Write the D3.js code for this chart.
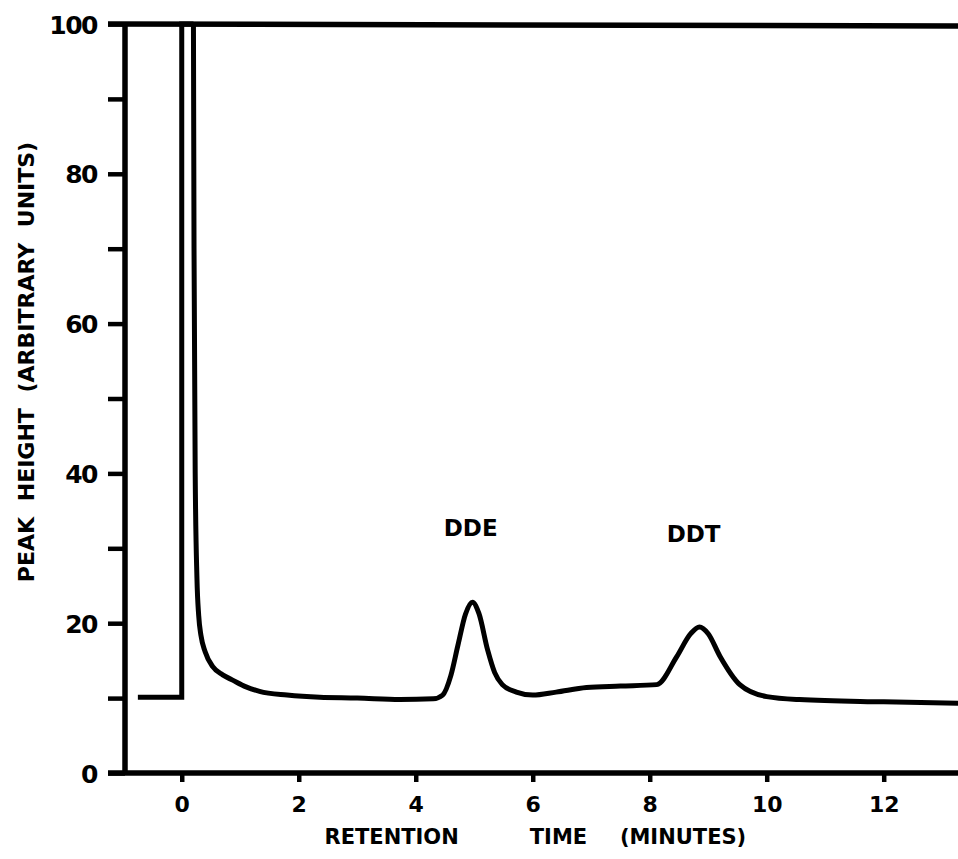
<!DOCTYPE html>
<html>
<head>
<meta charset="utf-8">
<script src="https://cdn.jsdelivr.net/npm/d3@7"></script>
<style>
  body { margin: 0; background: #fff; }
  text { font-family: "DejaVu Sans", sans-serif; font-weight: bold; fill: #000; }
</style>
</head>
<body>
<div id="chart"></div>
<script>
// values
const jumpPoints = [[-0.75, 10.1], [0, 10.1], [0, 100], [0.2, 100]];
const tracePoints = [
    [0.2, 100], [0.21, 70], [0.23, 40], [0.26, 26], [0.29, 21], [0.33, 18.3],
    [0.4, 16.2], [0.53, 14.2], [0.7, 13.1], [0.87, 12.4], [1.1, 11.5], [1.33, 10.9],
    [1.8, 10.4], [2.36, 10.1], [3.0, 10.0], [3.73, 9.8], [4.3, 9.9], [4.46, 10.4],
    [4.6, 13], [4.72, 17], [4.85, 21.2], [4.97, 22.8], [5.08, 21.3], [5.23, 16.4],
    [5.35, 13.4], [5.48, 11.8], [5.72, 10.8], [6.0, 10.4], [6.4, 10.8], [6.92, 11.4],
    [7.5, 11.6], [8.12, 11.8], [8.46, 15.5], [8.7, 18.6], [8.85, 19.5], [9.0, 18.6],
    [9.2, 15.6], [9.54, 11.8], [10.0, 10.2], [10.56, 9.8], [12.0, 9.5], [13.3, 9.3]
];
const xTicks = [0, 2, 4, 6, 8, 10, 12];
const yTicks = [0, 10, 20, 30, 40, 50, 60, 70, 80, 90, 100];
const yLabels = [0, 20, 40, 60, 80, 100];
const peakLabels = [{ name: "DDE", x: 4.94, y: 31.6 }, { name: "DDT", x: 8.75, y: 30.8 }];
const xTitleWords = [{ word: "RETENTION", x: 2.44 }, { word: "TIME", x: 5.95 }, { word: "(MINUTES)", x: 7.49 }];

const width = 958, height = 859;
const svg = d3.select("#chart").append("svg")
    .attr("width", width)
    .attr("height", height);

const x = d3.scaleLinear().domain([-0.97, 13.27]).range([125, 958]);
const y = d3.scaleLinear().domain([0, 100]).range([773, 24]);

// y ticks on the left
const yAxis = svg.append("g")
    .attr("transform", `translate(${x(-0.97)},0)`)
    .call(d3.axisLeft(y).tickValues(yTicks).tickSize(17)
        .tickFormat(d => yLabels.includes(d) ? d : ""));
yAxis.select(".domain").remove();
yAxis.selectAll(".tick line").attr("stroke", "#000").attr("stroke-width", 4.5);
yAxis.selectAll(".tick text").attr("x", -28).attr("dy", "0.36em")
    .style("font-size", "25px").style("letter-spacing", "-1.5px");

// x ticks along the bottom
const xAxis = svg.append("g")
    .attr("transform", `translate(0,${y(0)})`)
    .call(d3.axisBottom(x).tickValues(xTicks).tickSize(9));
xAxis.select(".domain").remove();
xAxis.selectAll(".tick line").attr("stroke", "#000").attr("stroke-width", 4.5);
xAxis.selectAll(".tick text").attr("y", 23).attr("dy", "0.71em").style("font-size", "22px");

// frame: left axis, bottom axis, top line
svg.append("line")
    .attr("x1", x(-0.97)).attr("x2", x(-0.97))
    .attr("y1", y(100)).attr("y2", y(0) + 2)
    .attr("stroke", "#000").attr("stroke-width", 5.5);
svg.append("line")
    .attr("x1", x(-0.97) - 17).attr("x2", width)
    .attr("y1", y(0)).attr("y2", y(0))
    .attr("stroke", "#000").attr("stroke-width", 5.5);
svg.append("line")
    .attr("x1", x(-0.97) - 17).attr("x2", width)
    .attr("y1", y(100)).attr("y2", y(100) + 2)
    .attr("stroke", "#000").attr("stroke-width", 5.5);

// chromatogram trace
svg.append("path")
    .datum(jumpPoints)
    .attr("fill", "none")
    .attr("stroke", "#000")
    .attr("stroke-width", 5)
    .attr("d", d3.line().x(d => x(d[0])).y(d => y(d[1])));

svg.append("path")
    .datum(tracePoints)
    .attr("fill", "none")
    .attr("stroke", "#000")
    .attr("stroke-width", 5)
    .attr("stroke-linejoin", "round")
    .attr("d", d3.line().x(d => x(d[0])).y(d => y(d[1])).curve(d3.curveMonotoneX));

svg.selectAll(".peak")
    .data(peakLabels)
    .enter().append("text")
    .attr("class", "peak")
    .attr("x", d => x(d.x))
    .attr("y", d => y(d.y))
    .attr("text-anchor", "middle")
    .style("font-size", "23px")
    .text(d => d.name);

// axis titles
svg.selectAll(".xtitle")
    .data(xTitleWords)
    .enter().append("text")
    .attr("class", "xtitle")
    .attr("x", d => x(d.x))
    .attr("y", 844)
    .style("font-size", "21px")
    .text(d => d.word);

svg.append("text")
    .attr("transform", "translate(34,362) rotate(-90)")
    .attr("text-anchor", "middle")
    .style("font-size", "22px")
    .style("word-spacing", "8px")
    .text("PEAK HEIGHT (ARBITRARY UNITS)");
</script>
</body>
</html>
